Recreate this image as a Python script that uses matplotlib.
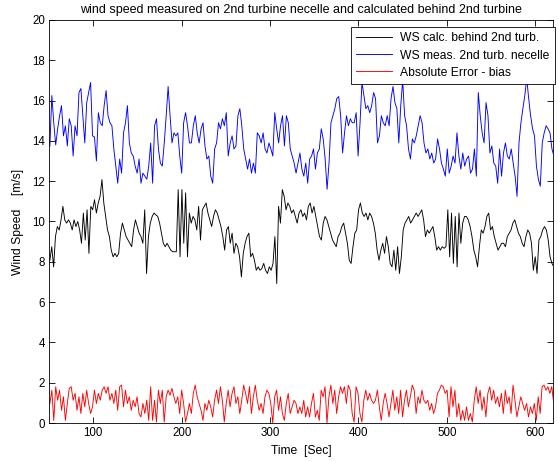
import numpy as np
import matplotlib
matplotlib.use("Agg")
import matplotlib.pyplot as plt

plt.rcParams['font.family'] = ['Liberation Sans', 'DejaVu Sans']

title = "wind speed measured on 2nd turbine necelle and calculated behind 2nd turbine"
xlabel = "Time  [Sec]"
ylabel = "Wind Speed    [m/s]"
labels = ["WS calc. behind 2nd turb.", "WS meas. 2nd turb. necelle", "Absolute Error - bias"]
xticks = [100, 200, 300, 400, 500, 600]
yticks = [0, 2, 4, 6, 8, 10, 12, 14, 16, 18, 20]

ws_meas = [
    13.75, 16.25, 14.9, 13.8, 14.6, 15.25, 15.75, 14.25, 14.75, 13.75, 15.1, 14.75, 13.25, 14.75, 14.25,
    16.4, 16.6, 15.25, 13.9, 15.9, 16.4, 16.9, 14.25, 14.2, 13.0, 15.4, 14.9, 14.75, 15.75, 16.5,
    15.25, 14.9, 14.75, 13.6, 12.75, 11.9, 13.1, 12.4, 14.4, 14.9, 15.75, 13.9, 13.4, 13.25, 12.75,
    12.4, 13.1, 11.9, 12.4, 12.25, 12.1, 12.75, 13.9, 11.9, 14.75, 15.1, 13.6, 12.9, 12.75, 13.9,
    15.25, 16.7, 15.25, 13.9, 14.4, 14.25, 14.4, 13.25, 12.4, 14.9, 15.4, 14.75, 13.9, 13.9, 14.75,
    15.25, 14.4, 13.9, 14.6, 14.9, 13.75, 13.1, 13.25, 12.25, 11.9, 13.6, 13.9, 14.9, 14.6, 15.1,
    14.75, 15.4, 13.25, 13.9, 14.25, 13.6, 13.75, 15.25, 15.6, 14.75, 13.6, 13.1, 12.6, 13.1, 12.4,
    12.9, 12.4, 14.4, 14.25, 13.9, 14.4, 13.6, 13.4, 13.9, 13.6, 13.25, 15.4, 14.6, 13.9, 14.75,
    15.25, 13.75, 15.25, 14.9, 13.6, 13.25, 12.9, 12.4, 12.9, 13.4, 12.6, 12.25, 12.9, 11.9, 13.1,
    13.25, 13.6, 12.6, 13.4, 13.6, 14.6, 14.1, 13.1, 11.6, 12.9, 14.9, 15.25, 15.6, 16.1, 16.2,
    15.25, 13.4, 14.4, 15.25, 14.75, 15.1, 14.9, 14.9, 15.4, 13.25, 14.9, 16.9, 16.25, 15.6, 15.75,
    15.4, 15.75, 16.4, 16.1, 13.9, 14.25, 15.25, 14.9, 14.75, 15.25,
    14.75, 16.1, 16.7, 15.9, 15.6, 13.9, 15.75, 17.0, 15.25, 14.75, 13.6, 13.1, 14.1, 13.9, 14.25,
    14.75, 15.25, 14.9, 13.9, 13.4, 13.6, 13.1, 13.4, 12.9, 13.1, 14.1, 13.6, 12.9, 12.6, 12.25,
    13.6, 12.4, 12.75, 13.25, 12.9, 14.4, 13.25, 12.6, 13.4, 12.75, 13.1, 13.25, 12.4, 12.6, 13.6,
    12.25, 16.4, 15.25, 14.4, 13.9, 15.9, 15.25, 13.4, 13.75, 12.9, 12.75, 11.9, 13.6, 12.25, 13.4,
    13.9, 13.25, 13.1, 13.6, 12.9, 12.25, 11.25, 13.9, 14.9, 15.6, 16.25, 17.1, 16.1, 15.25, 14.6,
    14.25, 12.75, 12.1, 11.75, 13.9, 14.4, 14.75, 14.6, 14.4, 13.6, 13.25,
]

ws_calc = [
    8.08, 8.75, 7.75, 9.25, 9.75, 9.58, 10.08, 10.75, 10.08, 9.92, 10.08, 9.92, 9.58, 10.08, 9.75,
    10.0, 9.58, 8.92, 10.42, 9.08, 10.58, 8.42, 10.75, 10.58, 11.08, 10.42, 10.92, 11.25, 12.08, 10.92,
    10.25, 9.58, 9.25, 8.58, 8.25, 8.42, 8.25, 8.42, 9.42, 9.92, 9.58, 9.25, 9.08, 8.92, 8.75,
    9.58, 10.08, 9.75, 9.42, 9.25, 8.92, 10.58, 7.42, 9.25, 9.92, 10.25, 10.42, 10.33, 10.25, 9.92,
    9.42, 8.92, 8.75, 8.92, 8.75, 8.58, 8.5,
    8.5, 8.5, 11.58, 8.25, 11.58, 8.92, 11.42, 8.25, 10.42, 9.92, 10.25, 10.08, 9.58, 10.75, 9.08,
    10.58, 10.75, 10.92, 10.42, 10.08, 9.75, 10.25, 10.58, 10.42, 10.08, 9.75, 9.25, 8.58, 9.58, 9.75,
    8.92, 9.42, 8.42, 8.92, 8.75, 8.25, 7.25, 8.42, 8.92, 9.25, 9.42, 8.25, 8.42, 8.08, 7.58,
    7.75, 7.58, 7.67, 7.92, 7.58, 7.42, 7.75, 7.58, 7.92, 9.25, 6.92, 10.75, 9.92, 11.58, 11.25,
    10.58, 10.92, 10.75, 10.42, 10.58, 10.25, 9.92,
    10.42, 10.58, 10.25, 10.42, 10.08, 10.75, 10.92, 10.42, 10.75, 10.25, 9.75, 9.25, 9.08, 9.92, 10.25,
    10.08, 9.75, 9.42, 9.08, 8.92, 8.75, 9.25, 9.42, 9.75, 9.92, 9.42, 8.92, 8.08, 7.92, 8.75,
    9.42, 9.58, 10.58, 10.92, 10.42, 10.25, 10.42, 10.08, 10.42, 10.25, 9.92, 9.42, 8.58, 8.08, 8.58,
    8.92, 8.42, 9.25, 8.75, 7.92, 7.75, 8.58, 7.58, 8.75, 7.42, 8.25, 9.58, 9.92, 10.08, 10.25,
    9.92, 10.08, 10.25, 10.42, 10.25, 10.42, 10.58,
    10.08, 9.25, 9.58, 9.42, 9.58, 9.75, 9.25, 8.58, 8.75, 8.58, 8.75, 8.67, 8.75, 10.58, 8.25,
    10.42, 7.92, 10.25, 7.75, 10.42, 8.92, 9.92, 10.25, 10.25, 10.08, 9.75, 9.25, 8.58, 8.25, 7.75,
    8.75, 9.58, 9.42, 9.75, 10.25, 10.42, 9.58, 9.75, 9.25, 8.92, 8.58, 8.75, 8.92, 8.92, 8.75,
    9.25, 9.42, 9.58, 9.92, 10.08, 9.75, 9.42, 9.25, 8.92, 8.75, 9.25, 9.58, 9.42, 8.92, 7.58,
    8.25, 7.42, 9.08, 9.25, 9.58, 9.75, 9.58, 9.08, 8.25, 7.92, 7.75, 7.75,
]

abs_error = [
    0.97, 1.63, 0.13, 1.8, 1.13, 1.63, 0.63, 1.3, 0.13, 0.97, 1.72, 1.8, 1.13, 1.47, 0.63,
    1.3, 0.47, 1.47, 0.8, 1.63, 0.97, 0.47, 0.8, 1.63, 0.97, 1.47, 1.13, 1.63, 1.8, 1.47,
    1.8, 1.13, 1.47, 0.97, 1.63, 0.63, 1.8, 1.88, 0.8, 1.63, 0.97, 1.3, 0.63, 1.13, 0.8,
    1.3, 0.47, 0.3, 0.97, 0.47, 1.13, 0.13, 1.8, 0.13, 1.13, 0.05, 1.63, 0.97, 1.63, 0.05,
    1.3, 1.63, 1.38, 1.72, 1.3, 0.97,
    1.3, 0.47, 1.63, 0.97, 0.05, 0.47, 0.97, 0.47, 1.47, 1.88, 1.3, 0.97, 0.63, 0.13, 0.97,
    0.63, 1.13, 0.8, 0.3, 1.13, 1.63, 0.97, 1.8, 1.13, 0.05, 0.97, 1.63, 0.8, 1.47, 1.8,
    0.97, 1.3, 0.47, 1.13, 1.88, 1.47, 0.97, 1.8, 0.47, 1.3, 1.88, 1.13, 0.63, 0.97, 0.47,
    1.3, 1.63, 1.47, 0.97, 0.0, 1.3, 1.63, 0.63, 1.3, 0.47, 0.13, 0.97, 1.47, 0.47, 0.8,
    1.13, 0.97, 0.47, 0.8,
    0.47, 1.13, 0.3, 0.8, 0.3, 0.97, 1.47, 0.3, 0.63, 0.13, 1.63, 1.3, 1.8, 0.0, 1.3,
    1.88, 0.97, 1.63, 0.47, 1.3, 1.8, 1.47, 1.8, 0.97, 1.88, 1.63, 0.47, 0.05, 1.8, 1.47,
    0.47, 0.05, 1.13, 1.63, 1.13, 1.47, 1.13, 0.97, 1.13, 1.63, 0.8, 0.13, 0.97, 1.47, 0.97,
    0.3, 0.97, 1.63, 0.63, 1.3, 0.47, 1.63, 0.3, 1.13, 1.63, 0.8, 1.3, 1.88, 1.63, 0.47,
    1.3, 0.97, 1.63, 1.13,
    0.97, 1.13, 0.63, 0.97, 0.47, 0.8, 1.47, 1.63, 1.88, 1.8, 1.47, 1.63, 0.3, 1.8, 0.8,
    1.63, 0.3, 0.97, 0.13, 0.63, 0.13, 0.8, 0.13, 0.47, 0.05, 1.13, 1.8, 0.97, 1.63, 0.63,
    1.3, 0.3, 1.47, 1.8, 1.13, 1.63, 0.97, 1.3, 0.8, 1.47, 0.47, 1.63, 0.97, 1.3, 0.47,
    1.88, 1.13, 0.3, 0.8, 1.3, 0.97, 0.63, 0.97, 0.3, 0.8, 0.47, 0.97, 0.13, 1.3, 0.47,
    1.8, 1.88, 1.63, 1.8, 1.47, 1.8, 0.97, 0.8,
]

t_meas = np.linspace(51, 621, len(ws_meas))
t_calc = np.linspace(51, 623, len(ws_calc))
t_err = np.linspace(51, 623, len(abs_error))

fig = plt.figure(figsize=(5.58, 4.61), dpi=100)
ax = fig.add_axes([49 / 558, 1 - 423 / 461, (553 - 49) / 558, (423 - 20) / 461])

ax.plot(t_calc, ws_calc, color='black', lw=0.65, label=labels[0])
ax.plot(t_meas, ws_meas, color='#0000ff', lw=0.65, label=labels[1])
ax.plot(t_err, abs_error, color='#ff0000', lw=0.65, label=labels[2])

ax.set_xlim(50, 620)
ax.set_ylim(0, 20)
ax.set_xticks(xticks)
ax.set_yticks(yticks)
ax.tick_params(direction='in', top=True, right=True, labelsize=8.3, length=4, width=0.6, pad=3)
for s in ax.spines.values():
    s.set_linewidth(0.6)

ax.set_title(title, fontsize=9, pad=5)
ax.set_xlabel(xlabel, fontsize=8.7, labelpad=4)
ax.set_ylabel(ylabel, fontsize=8.7, labelpad=6)

leg = ax.legend(loc='upper right', bbox_to_anchor=(1.003, (423 - 27) / 403), fontsize=8.7,
                frameon=True, fancybox=False, edgecolor='black', framealpha=1,
                handlelength=3.0, handletextpad=0.6, borderaxespad=0.0,
                labelspacing=0.42, borderpad=0.45)
leg.get_frame().set_linewidth(0.6)

fig.savefig('out.png', dpi=100)
